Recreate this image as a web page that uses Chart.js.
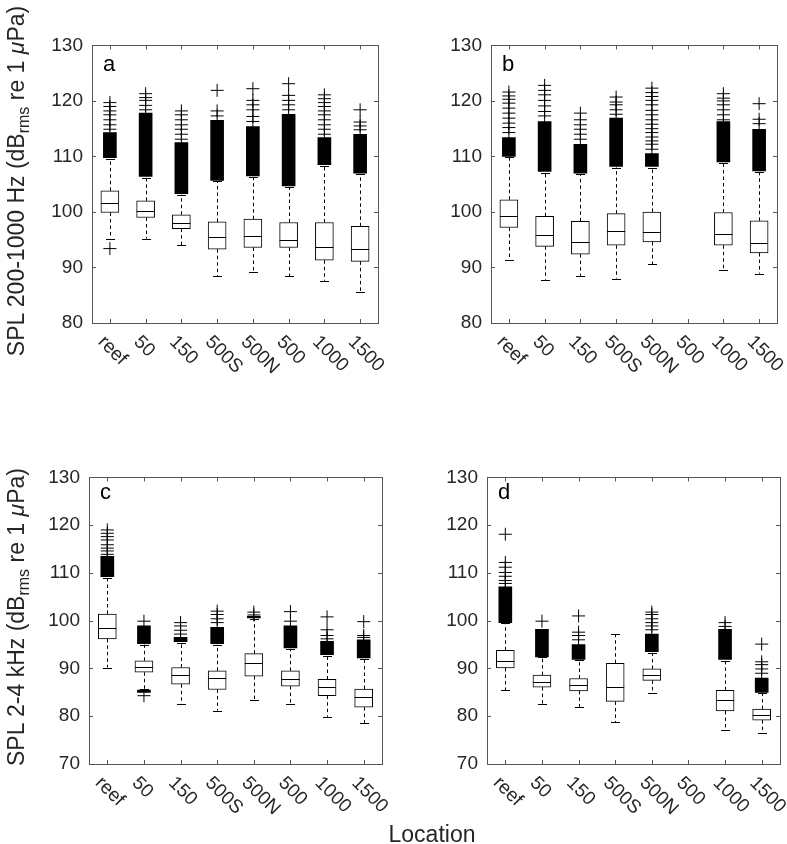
<!DOCTYPE html>
<html>
<head>
<meta charset="utf-8">
<script src="https://cdn.jsdelivr.net/npm/chart.js@4.4.1/dist/chart.umd.min.js"></script>
<title>SPL by location</title>
<style>
	body { margin: 0; background: #fff; width: 787px; height: 844px; position: relative; overflow: hidden;
		font-family: 'Liberation Sans', Arial, sans-serif; color: #262626; }
	canvas { position: absolute; }
	.ylab { position: absolute; width: 440px; height: 30px; line-height: 30px; text-align: center;
		font-size: 23px; white-space: nowrap; transform: rotate(-90deg); }
	.ylab sub { font-size: 16px; vertical-align: -5px; line-height: 0; }
	#xlab { position: absolute; left: 332px; top: 819px; width: 200px; height: 30px; line-height: 30px;
		text-align: center; font-size: 23px; }
</style>
</head>
<body>
	<canvas id="panelA"></canvas>
	<canvas id="panelB"></canvas>
	<canvas id="panelC"></canvas>
	<canvas id="panelD"></canvas>
	<div class="ylab" style="left:-204px; top:166px;">SPL 200-1000 Hz (dB<sub>rms</sub> re 1 <i>μ</i>Pa)</div>
	<div class="ylab" style="left:-204px; top:602px;">SPL 2-4 kHz (dB<sub>rms</sub> re 1 <i>μ</i>Pa)</div>
	<div id="xlab">Location</div>
	<script type="text/javascript">
		const locations = ['reef', '50', '150', '500S', '500N', '500', '1000', '1500'];

		// a: 200-1000 Hz
		const lowA  = [95.2, 95.2, 94.0, 88.4, 89.2, 88.4, 87.6, 85.6];
		const q1A   = [99.9, 99.0, 97.0, 93.3, 93.6, 93.6, 91.3, 91.1];
		const medA  = [101.6, 100.2, 98.0, 95.4, 95.6, 95.0, 93.6, 93.4];
		const q3A   = [103.8, 102.0, 99.5, 98.2, 98.7, 98.1, 98.1, 97.4];
		const highA = [109.6, 106.2, 103.1, 105.5, 106.3, 104.5, 108.3, 106.8];
		const bandA = [[109.8, 114.3], [106.4, 117.8], [103.3, 112.5], [105.7, 116.5], [106.5, 115.4], [104.7, 117.6], [108.5, 113.4], [107.0, 114.0]];
		const outA  = [
			[114.9, 115.7, 116.6, 117.5, 118.2, 119.0, 119.7],
			[118.4, 119.2, 120.1, 120.6, 121.3],
			[113.1, 114.0, 114.9, 115.7, 116.6, 117.5, 118.2],
			[117.3, 118.2, 121.9],
			[116.3, 117.2, 118.4, 119.3, 120.1, 122.2],
			[118.4, 119.3, 120.1, 121.0, 123.1],
			[114.0, 114.9, 115.7, 116.6, 117.5, 118.2, 119.0, 119.7, 120.4, 121.1],
			[114.8, 115.5, 116.2, 118.4]
		];
		const lowOutA = [[93.4], [], [], [], [], [], [], []];

		// b: 200-1000 Hz
		const lowB  = [91.4, 87.8, 88.5, 88.0, 90.6, null, 89.6, 88.9];
		const q1B   = [97.2, 93.8, 92.4, 94.0, 94.6, null, 94.0, 92.6];
		const medB  = [99.3, 95.8, 94.5, 96.5, 96.4, null, 96.0, 94.4];
		const q3B   = [102.2, 99.2, 98.3, 99.7, 100.0, null, 99.9, 98.4];
		const highB = [109.9, 107.1, 106.8, 108.0, 108.0, null, 108.8, 107.2];
		const bandB = [[110.0, 113.4], [107.3, 116.3], [107.0, 112.2], [108.2, 116.9], [108.2, 110.5], null, [109.0, 116.3], [107.4, 114.9]];
		const outB  = [
			[114.3, 115.2, 116.0, 116.9, 117.8, 118.7, 119.6, 120.3, 120.9, 121.6],
			[117.3, 118.1, 119.1, 120.1, 121.1, 121.9, 122.8],
			[113.1, 114.0, 114.9, 115.7, 116.6, 117.8],
			[117.6, 118.4, 119.3, 119.8, 120.7],
			[111.3, 112.2, 112.8, 113.5, 114.3, 115.0, 115.8, 116.6, 117.5, 118.3, 119.3, 120.1, 120.8, 121.5, 122.3],
			[],
			[116.6, 117.5, 118.4, 119.3, 120.0, 120.5, 121.3],
			[115.9, 116.7, 119.5]
		];
		const lowOutB = [[], [], [], [], [], [], [], []];

		// c: 2-4 kHz
		const lowC  = [90.2, 85.7, 82.6, 81.2, 83.3, 82.6, 79.9, 78.5];
		const q1C   = [96.2, 89.2, 86.7, 85.6, 88.4, 86.3, 84.3, 81.9];
		const medC  = [98.5, 90.4, 88.6, 88.0, 91.1, 87.8, 86.1, 84.1];
		const q3C   = [101.4, 91.6, 90.2, 89.5, 93.1, 89.5, 87.7, 85.7];
		const highC = [109.0, 95.0, 95.4, 95.0, 100.4, 94.1, 92.7, 92.0];
		const bandC = [[109.2, 113.5], [95.2, 98.9], [95.6, 96.5], [95.2, 98.6], [100.6, 100.9], [94.3, 98.9], [92.9, 95.7], [92.2, 96.0]];
		const outC  = [
			[113.9, 114.6, 115.2, 115.9, 116.9, 117.6, 118.3, 119.0],
			[99.9],
			[97.2, 98.0, 98.9, 99.6],
			[99.6, 100.4, 101.3, 102.0],
			[101.2, 101.8],
			[99.9, 101.9],
			[96.2, 96.9, 98.1, 100.8],
			[96.5, 96.9, 99.8]
		];
		const lowBandC = [null, [85.0, 85.5], null, null, null, null, null, null];
		const lowOutC = [[], [84.3], [], [], [], [], [], []];

		// d: 2-4 kHz
		const lowD  = [85.4, 82.6, 81.9, 78.8, 84.8, null, 77.1, 76.5];
		const q1D   = [90.1, 86.1, 85.3, 83.1, 87.5, null, 81.1, 79.2];
		const medD  = [91.6, 87.2, 86.5, 86.1, 88.7, null, 83.3, 80.2];
		const q3D   = [93.8, 88.6, 87.9, 91.1, 89.9, null, 85.4, 81.5];
		const highD = [99.5, 92.3, 91.7, 97.2, 93.3, null, 91.6, 84.8];
		const bandD = [[99.6, 107.1], [92.4, 98.2], [91.9, 95.0], null, [93.5, 97.2], null, [91.9, 98.2], [85.0, 88.0]];
		const outD  = [
			[107.8, 108.4, 109.3, 110.1, 111.2, 112.2, 118.1],
			[99.9],
			[96.0, 96.9, 97.6, 101.0],
			[],
			[98.1, 98.9, 99.6, 100.4, 101.3, 101.8],
			[],
			[98.8, 99.6],
			[89.0, 89.9, 90.8, 91.4, 95.1]
		];
		const lowOutD = [[], [], [], [], [], [], [], []];

		const FONT = "'Liberation Sans', Arial, sans-serif";
		Chart.defaults.font.family = FONT;
		Chart.defaults.color = '#262626';

		function makePanel(id, box, yMin, letter, low, q1, med, q3, high, band, out, lowOut, lowBand) {
			const canvas = document.getElementById(id);
			const W = box.r - box.l + 70 + 12;
			const H = box.b - box.t + 14 + 80;
			canvas.width = W;
			canvas.height = H;
			canvas.style.left = (box.l - 70) + 'px';
			canvas.style.top = (box.t - 14) + 'px';

			let points = [];
			out.forEach((vals, i) => vals.forEach(v => points.push({ x: locations[i], y: v })));
			lowOut.forEach((vals, i) => vals.forEach(v => points.push({ x: locations[i], y: v })));

			const boxParts = {
				id: 'boxParts',
				beforeDatasetsDraw(chart) {
					const ctx = chart.ctx, x = chart.scales.x, y = chart.scales.y;
					ctx.save();
					ctx.strokeStyle = '#000';
					ctx.lineWidth = 1;
					for (let i = 0; i < locations.length; i++) {
						if (q1[i] == null) continue;
						const px = Math.round(x.getPixelForValue(i)) + 0.5;
						ctx.setLineDash([3.5, 3]);
						ctx.beginPath();
						ctx.moveTo(px, y.getPixelForValue(q3[i]));
						ctx.lineTo(px, y.getPixelForValue(high[i]));
						ctx.moveTo(px, y.getPixelForValue(q1[i]));
						ctx.lineTo(px, y.getPixelForValue(low[i]));
						ctx.stroke();
						ctx.setLineDash([]);
						ctx.beginPath();
						[high[i], low[i]].forEach(v => {
							const py = Math.round(y.getPixelForValue(v)) + 0.5;
							ctx.moveTo(px - 4.5, py);
							ctx.lineTo(px + 4.5, py);
						});
						ctx.stroke();
					}
					ctx.restore();
				},
				afterDatasetsDraw(chart) {
					const ctx = chart.ctx, x = chart.scales.x, y = chart.scales.y;
					ctx.save();
					ctx.strokeStyle = '#000';
					ctx.lineWidth = 1;
					ctx.beginPath();
					for (let i = 0; i < locations.length; i++) {
						if (med[i] == null) continue;
						const px = x.getPixelForValue(i);
						const py = Math.round(y.getPixelForValue(med[i])) + 0.5;
						ctx.moveTo(px - 9, py);
						ctx.lineTo(px + 9, py);
					}
					ctx.stroke();
					ctx.restore();
				},
				afterDraw(chart) {
					const ctx = chart.ctx, x = chart.scales.x, y = chart.scales.y;
					const a = chart.chartArea;
					ctx.save();
					// box frame with inward ticks
					ctx.strokeStyle = '#555';
					ctx.lineWidth = 1;
					ctx.strokeRect(Math.round(a.left) + 0.5, Math.round(a.top) + 0.5,
						Math.round(a.right - a.left), Math.round(a.bottom - a.top));
					ctx.beginPath();
					for (let i = 0; i < locations.length; i++) {
						const px = Math.round(x.getPixelForValue(i)) + 0.5;
						ctx.moveTo(px, a.bottom); ctx.lineTo(px, a.bottom - 4);
						ctx.moveTo(px, a.top); ctx.lineTo(px, a.top + 4);
					}
					y.ticks.forEach(t => {
						const py = Math.round(y.getPixelForValue(t.value)) + 0.5;
						ctx.moveTo(a.left, py); ctx.lineTo(a.left + 4, py);
						ctx.moveTo(a.right, py); ctx.lineTo(a.right - 4, py);
					});
					ctx.stroke();

					// rotated category labels
					ctx.fillStyle = '#262626';
					ctx.font = '19px ' + FONT;
					ctx.textAlign = 'left';
					ctx.textBaseline = 'middle';
					for (let i = 0; i < locations.length; i++) {
						ctx.save();
						ctx.translate(x.getPixelForValue(i) - 9, a.bottom + 16);
						ctx.rotate(Math.PI / 4);
						ctx.fillText(locations[i], 0, 0);
						ctx.restore();
					}

					// panel letter
					ctx.font = '22px ' + FONT;
					ctx.textBaseline = 'alphabetic';
					ctx.fillStyle = '#000';
					ctx.fillText(letter, a.left + 11, a.top + (letter === 'a' || letter === 'b' ? 26 : 22));
					ctx.restore();
				}
			};

			const datasets = [
				{
					type: 'bar',
					data: q1.map((v, i) => v == null ? null : [q1[i], q3[i]]),
					backgroundColor: '#fff',
					borderColor: '#000',
					borderWidth: 1,
					borderSkipped: false,
					barThickness: 18,
					grouped: false,
					order: 1
				},
				{
					type: 'bar',
					data: band.map(v => v == null ? null : v),
					backgroundColor: '#000',
					borderWidth: 0,
					barThickness: 13,
					grouped: false,
					order: 2
				},
				{
					type: 'scatter',
					data: points,
					pointStyle: 'cross',
					pointRadius: 6.5,
					pointBorderColor: '#000',
					pointBorderWidth: 1,
					showLine: false,
					order: 3
				}
			];
			if (lowBand) {
				datasets.push({
					type: 'bar',
					data: lowBand.map(v => v == null ? null : v),
					backgroundColor: '#000',
					borderWidth: 0,
					barThickness: 13,
					grouped: false,
					order: 2
				});
			}

			return new Chart(canvas, {
				type: 'bar',
				data: { labels: locations, datasets: datasets },
				options: {
					responsive: false,
					animation: false,
					devicePixelRatio: 1,
					layout: { padding: { left: 0, top: 14, right: 12, bottom: 0 } },
					plugins: { legend: { display: false }, tooltip: { enabled: false } },
					scales: {
						x: {
							type: 'category',
							offset: true,
							grid: { display: false, drawTicks: false },
							border: { display: false },
							ticks: { display: false },
							afterFit: s => { s.height = 80; }
						},
						y: {
							min: yMin,
							max: 130,
							grid: { display: false, drawTicks: false },
							border: { display: false },
							ticks: { stepSize: 10, padding: 9, font: { size: 19 }, color: '#262626' },
							afterFit: s => { s.width = 70; }
						}
					}
				},
				plugins: [boxParts]
			});
		}

		makePanel('panelA', { l: 92, t: 39, r: 378, b: 323 }, 80, 'a', lowA, q1A, medA, q3A, highA, bandA, outA, lowOutA);
		makePanel('panelB', { l: 491, t: 39, r: 777, b: 323 }, 80, 'b', lowB, q1B, medB, q3B, highB, bandB, outB, lowOutB);
		makePanel('panelC', { l: 89, t: 471, r: 382, b: 764 }, 70, 'c', lowC, q1C, medC, q3C, highC, bandC, outC, lowOutC, lowBandC);
		makePanel('panelD', { l: 487, t: 471, r: 780, b: 764 }, 70, 'd', lowD, q1D, medD, q3D, highD, bandD, outD, lowOutD);
	</script>
</body>
</html>
